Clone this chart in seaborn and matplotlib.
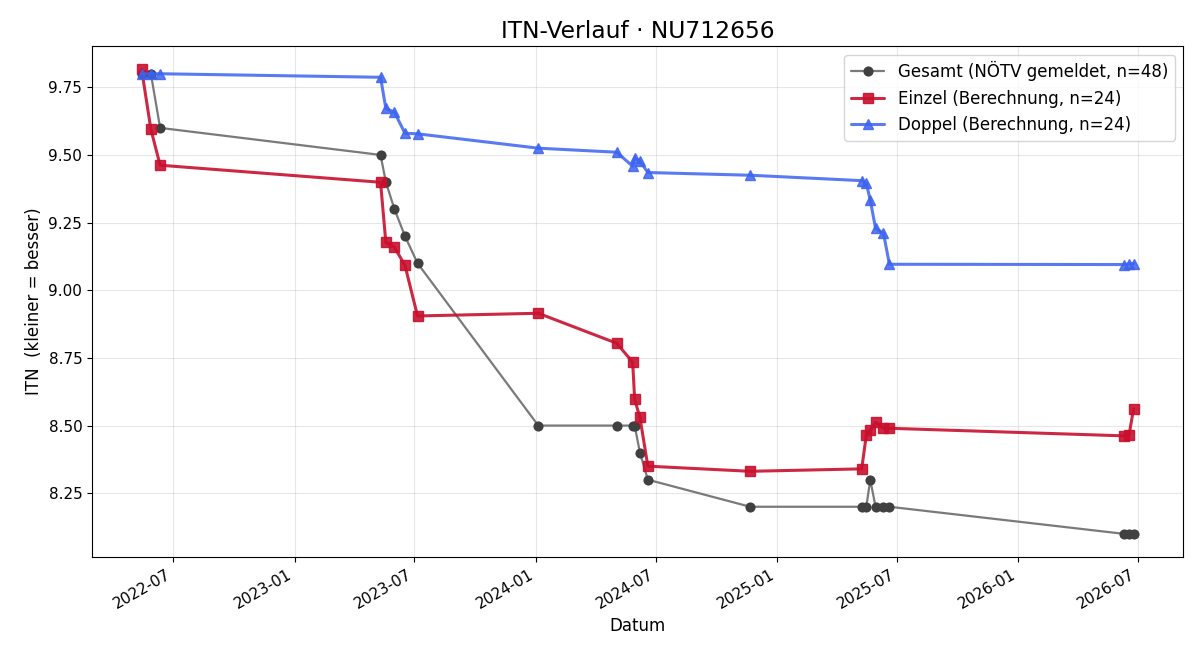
import matplotlib
matplotlib.use("Agg")
import matplotlib.pyplot as plt
import matplotlib.dates as mdates
import seaborn as sns
import pandas as pd

dates = ["2022-05-14", "2022-05-28", "2022-06-11", "2023-05-11", "2023-05-19",
         "2023-06-01", "2023-06-17", "2023-07-06", "2024-01-05", "2024-05-03",
         "2024-05-27", "2024-05-30", "2024-06-07", "2024-06-19", "2024-11-21",
         "2025-05-09", "2025-05-16", "2025-05-22", "2025-05-30", "2025-06-11",
         "2025-06-20", "2026-06-10", "2026-06-18", "2026-06-25"]

gesamt = [9.80, 9.80, 9.60, 9.50, 9.40, 9.30, 9.20, 9.10, 8.50, 8.50,
          8.50, 8.50, 8.40, 8.30, 8.20, 8.20, 8.20, 8.30, 8.20, 8.20,
          8.20, 8.10, 8.10, 8.10]

einzel = [9.816, 9.595, 9.462, 9.399, 9.177, 9.159, 9.092, 8.905, 8.915, 8.804,
          8.734, 8.597, 8.530, 8.350, 8.331, 8.340, 8.464, 8.483, 8.512, 8.490,
          8.490, 8.462, 8.464, 8.562]

doppel = [9.800, 9.800, 9.800, 9.787, 9.672, 9.658, 9.580, 9.578, 9.525, 9.510,
          9.458, 9.490, 9.477, 9.435, 9.425, 9.405, 9.395, 9.333, 9.229, 9.211,
          9.096, 9.095, 9.097, 9.098]

labels = ["Gesamt (NÖTV gemeldet, n=48)",
          "Einzel (Berechnung, n=24)",
          "Doppel (Berechnung, n=24)"]

df = pd.DataFrame({"Datum": pd.to_datetime(dates),
                   "gesamt": gesamt, "einzel": einzel, "doppel": doppel})

sns.set_style("ticks")
plt.rcParams["font.family"] = ["DejaVu Sans"]
for k in ["text.color", "axes.labelcolor", "xtick.color", "ytick.color", "axes.edgecolor"]:
    plt.rcParams[k] = "black"

fig, ax = plt.subplots(figsize=(12, 6.6), dpi=100)

# line colour, marker colour, alpha, linewidth, marker, markersize, edge width
specs = [("gesamt", "#7a7a7a", "#404040", None, 1.6, "o", 7.3, 0),
         ("einzel", "#c8102e", "#c8102e", 0.9, 2.2, "s", 7, 1),
         ("doppel", "#3d63f0", "#3d63f0", 0.85, 2.2, "^", 7, 1)]
for (col, c, mc, a, lw, m, ms, mew), lab in zip(specs, labels):
    sns.lineplot(data=df, x="Datum", y=col, ax=ax, color=c, alpha=a,
                 linewidth=lw, marker=m, markersize=ms,
                 markeredgecolor=mc, markerfacecolor=mc, markeredgewidth=mew,
                 label=lab)

ax.grid(True, alpha=0.3, color="#b0b0b0")
ax.set_title("ITN-Verlauf · NU712656", fontsize=16.8)
ax.set_xlabel("Datum", fontsize=12)
ax.set_ylabel("ITN  (kleiner = besser)", fontsize=12)
ax.tick_params(labelsize=11, direction="out", length=3.5, width=0.8)
ax.xaxis.set_major_locator(mdates.MonthLocator(bymonth=[1, 7]))
ax.xaxis.set_major_formatter(mdates.DateFormatter("%Y-%m"))
ax.yaxis.set_major_locator(plt.MultipleLocator(0.25))
ax.yaxis.set_major_formatter(matplotlib.ticker.FormatStrFormatter("%.2f"))
for s in ax.spines.values():
    s.set_visible(True)
    s.set_color("black")
    s.set_linewidth(0.8)
ax.legend(loc="upper right", fontsize=12)
fig.autofmt_xdate()
fig.subplots_adjust(left=0.0767, right=0.986, top=0.930, bottom=0.156)
fig.savefig("out.png", dpi=100)
